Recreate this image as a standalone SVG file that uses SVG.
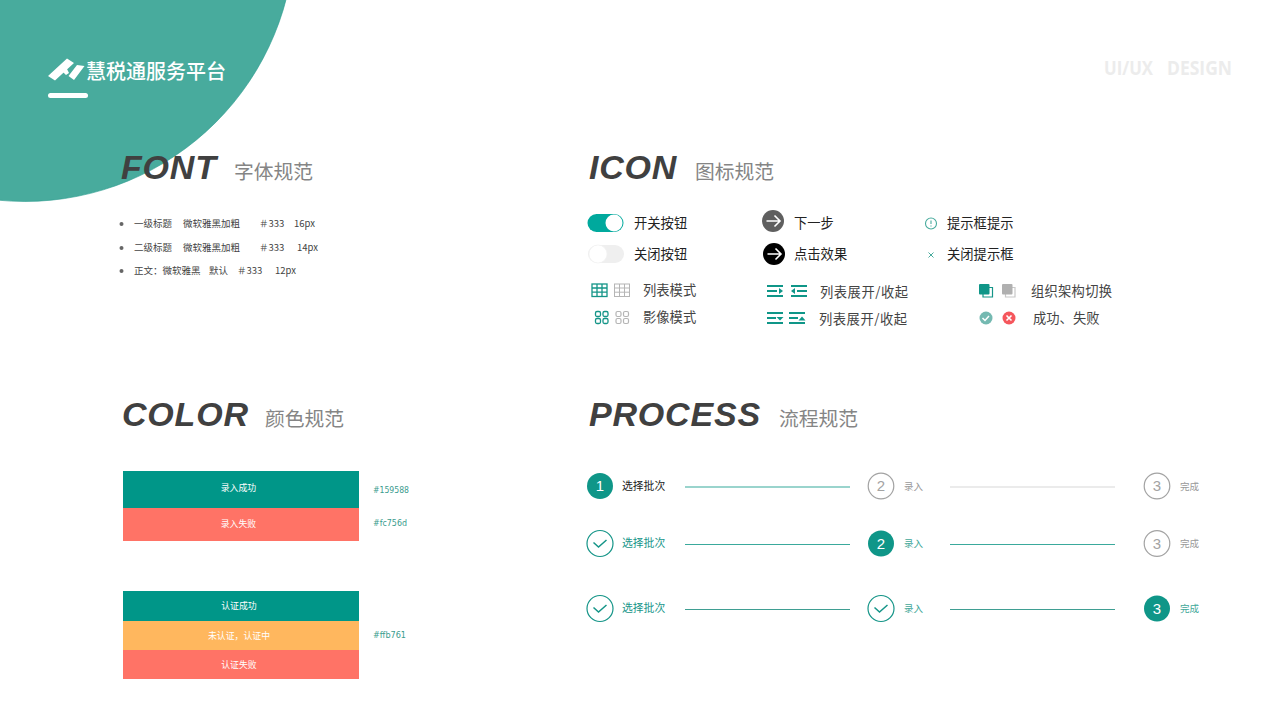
<svg xmlns="http://www.w3.org/2000/svg" width="1280" height="720" viewBox="0 0 1280 720">
<defs>
<style>
text{font-family:"Noto Sans CJK SC","Liberation Sans",sans-serif}
.h{font-family:"Liberation Sans",sans-serif;font-size:34px;font-weight:700;font-style:italic;fill:#404040;letter-spacing:.8px}
.s{font-size:19.800px;fill:#858585}
.f{font-size:9.500px;fill:#444}
.i{font-size:13.300px;fill:#222}
.i2{font-size:13.300px;fill:#444}
.w{font-size:8.900px;fill:#fff;text-anchor:middle}
.c{font-size:9.500px;fill:#3a9c8e;font-family:"DejaVu Sans",sans-serif}
.g{fill:#0f9688}
.o{fill:#fff;stroke:#a3a3a3;stroke-width:1.200}
.on{fill:#fff;stroke:#159588;stroke-width:1.200}
.n{font-family:"Liberation Sans",sans-serif;font-size:15px;text-anchor:middle}
.ck{fill:none;stroke:#159588;stroke-width:1.500}
.p{font-size:10.800px}
.tag{font-family:"Open Sans",sans-serif;font-size:19px;font-weight:700;fill:#ececec}
</style>
<g id="chk"><circle r="13" class="on"/><path d="M-6.500,-1 L-1.500,3.500 L6.500,-3.500" class="ck"/></g>
<g id="arrow"><path d="M-6.500,0H6.500M1.500,-5.500L7,0L1.500,5.500" fill="none" stroke="#fff" stroke-width="1.600"/></g>
</defs>
<rect width="1280" height="720" fill="#fff"/>
<g id="banner">
<circle cx="24.800" cy="-68.500" r="270" fill="#48ab9d" stroke="#2b9c8e" stroke-width=".6"/>
<path d="M48,76L67,58.500L74,63L55,80.500ZM63,72L67,69L69,73L66,75ZM68.500,76L77,65L84.500,66L74,80Z" fill="#fff"/>
<text x="86" y="79" font-size="20" fill="#fff" font-weight="500">慧税通服务平台</text>
<rect x="48" y="93" width="40" height="5" rx="2.500" fill="#fff"/>
</g>
<g id="tag"><text x="1104" y="75" class="tag" textLength="49" lengthAdjust="spacingAndGlyphs">UI/UX</text><text x="1167" y="75" class="tag" textLength="65" lengthAdjust="spacingAndGlyphs">DESIGN</text></g>
<g id="font">
<text x="121" y="179" class="h">FONT</text><text x="234" y="179" class="s">字体规范</text>
<circle cx="121.500" cy="224" r="2" fill="#666"/><circle cx="121.500" cy="248" r="2" fill="#666"/><circle cx="121.500" cy="271" r="2" fill="#666"/>
<text x="134" y="227" class="f">一级标题</text><text x="183" y="227" class="f">微软雅黑加粗</text><text x="259" y="227" class="f">＃333</text><text x="294" y="227" class="f">16px</text>
<text x="134" y="251" class="f">二级标题</text><text x="183" y="251" class="f">微软雅黑加粗</text><text x="259" y="251" class="f">＃333</text><text x="297" y="251" class="f">14px</text>
<text x="134" y="274" class="f">正文：微软雅黑</text><text x="209" y="274" class="f">默认</text><text x="237" y="274" class="f">＃333</text><text x="275" y="274" class="f">12px</text>
</g>
<g id="icon">
<text x="589" y="179" class="h">ICON</text><text x="695" y="179" class="s">图标规范</text>
<g id="switch-on"><rect x="587.500" y="214" width="36" height="18" rx="9" fill="#00a99d"/><circle cx="614" cy="223" r="8.500" fill="#fff"/><text x="634" y="228" class="i">开关按钮</text></g>
<g id="switch-off"><rect x="588" y="245" width="36" height="18" rx="9" fill="#efefef"/><circle cx="598" cy="254" r="9" fill="#fff" stroke="#f2f2f2" stroke-width=".8"/><text x="634" y="259" class="i">关闭按钮</text></g>
<g id="next"><circle cx="773" cy="221" r="11" fill="#5f5f5f"/><use href="#arrow" x="773" y="221"/><text x="794" y="228" class="i">下一步</text></g>
<g id="click"><circle cx="774" cy="254" r="11" fill="#000"/><use href="#arrow" x="774" y="254"/><text x="794" y="259" class="i">点击效果</text></g>
<g id="alert"><circle cx="931" cy="223.500" r="5.500" fill="none" stroke="#48ab9d" stroke-width="1.100"/><path d="M931,220.500v3.500M931,225.500v1" stroke="#48ab9d" stroke-width="1.100"/><text x="947" y="228" class="i">提示框提示</text></g>
<g id="close"><path d="M928.500,252.500l5,5M933.500,252.500l-5,5" stroke="#48ab9d" stroke-width="1"/><text x="947" y="259" class="i">关闭提示框</text></g>
<g id="list-mode">
<g fill="none" stroke="#159588" stroke-width="1.300"><rect x="592" y="284" width="15" height="12.500"/><path d="M592,288H607M592,292.200H607M597,284V296.500M602,284V296.500"/></g>
<g fill="none" stroke="#b5b5b5"><rect x="614.500" y="284" width="15" height="12.500"/><path d="M614.500,288H629.500M614.500,292.200H629.500M619.500,284V296.500M624.500,284V296.500"/></g>
<text x="643" y="295" class="i2">列表模式</text></g>
<g id="image-mode">
<g fill="none" stroke="#159588" stroke-width="1.300"><rect x="595.500" y="311.500" width="5" height="5" rx="1.500"/><rect x="603" y="311.500" width="5" height="5" rx="1.500"/><rect x="595.500" y="318.500" width="5" height="5" rx="1.500"/><rect x="603" y="318.500" width="5" height="5" rx="1.500"/></g>
<g fill="none" stroke="#b5b5b5" stroke-width="1.200"><rect x="616" y="311.500" width="5" height="5" rx="1.500"/><rect x="623.500" y="311.500" width="5" height="5" rx="1.500"/><rect x="616" y="318.500" width="5" height="5" rx="1.500"/><rect x="623.500" y="318.500" width="5" height="5" rx="1.500"/></g>
<text x="643" y="322" class="i2">影像模式</text></g>
<g id="list-toggle-1"><path d="M767,285h16v2h-16zM767,290h10v2h-10zM767,295h16v2h-16zM791,285h16v2h-16zM797,290h10v2h-10zM791,295h16v2h-16z" class="g"/><path d="M779,288l4,3l-4,3z" class="g"/><path d="M795,288l-4,3l4,3z" class="g"/><text x="820" y="297" class="i2" textLength="88">列表展开/收起</text></g>
<g id="list-toggle-2"><path d="M767,312h16v2h-16zM767,317h9v2h-9zM767,322h16v2h-16zM789,312h16v2h-16zM789,317h9v2h-9zM789,322h16v2h-16z" class="g"/><path d="M776.500,317h7l-3.500,3.500z" class="g"/><path d="M798.500,320.500h7l-3.500,-4z" class="g"/><text x="819" y="324" class="i2" textLength="88">列表展开/收起</text></g>
<g id="org-switch"><path d="M989,287.500h3.500v9.500h-9.500v-3" fill="none" stroke="#159588" stroke-width="1.200"/><rect x="979" y="284" width="10.500" height="10.500" rx="1" class="g"/><path d="M1012,287.500h3v9.500h-9.500v-3" fill="none" stroke="#c8c8c8" stroke-width="1.200"/><rect x="1002" y="284" width="10.500" height="10.500" rx="1" fill="#b0b0b0"/><text x="1031" y="296" class="i2" textLength="81">组织架构切换</text></g>
<g id="result"><circle cx="986" cy="318" r="6.500" fill="#74b9b1"/><path d="M982.500,318l2.500,2.500l4,-4.500" fill="none" stroke="#fff" stroke-width="1.500"/><circle cx="1009" cy="318" r="6.500" fill="#f5565c"/><path d="M1006.500,315.500l5,5M1011.500,315.500l-5,5" stroke="#fff" stroke-width="1.600"/><text x="1033" y="323" class="i2">成功、失败</text></g>
</g>
<g id="color">
<text x="122" y="426" class="h">COLOR</text><text x="265" y="426" class="s">颜色规范</text>
<rect x="123" y="471" width="236" height="37" fill="#009688"/><rect x="123" y="508" width="236" height="33" fill="#ff7366"/>
<text x="238.500" y="491" class="w">录入成功</text><text x="238.500" y="527" class="w">录入失败</text>
<text x="373" y="493" class="c" textLength="36" lengthAdjust="spacingAndGlyphs">#159588</text><text x="373" y="526" class="c" textLength="34" lengthAdjust="spacingAndGlyphs">#fc756d</text>
<rect x="123" y="591" width="236" height="30" fill="#009688"/><rect x="123" y="621" width="236" height="29" fill="#ffb75e"/><rect x="123" y="650" width="236" height="29" fill="#ff7366"/>
<text x="239" y="609" class="w">认证成功</text><text x="239" y="639" class="w">未认证，认证中</text><text x="239" y="668" class="w">认证失败</text>
<text x="373" y="638" class="c" textLength="33" lengthAdjust="spacingAndGlyphs">#ffb761</text>
</g>
<g id="process">
<text x="589" y="426" class="h">PROCESS</text><text x="779" y="426" class="s">流程规范</text>
<g id="connectors">
<path d="M685,487H850" stroke="#78c6bc" stroke-width="1.600"/><path d="M950,487H1115" stroke="#e5e5e5" stroke-width="1.600"/>
<path d="M685,544.500H850" stroke="#3aa99c" stroke-width="1.200"/><path d="M950,544.500H1115" stroke="#3aa99c" stroke-width="1.200"/>
<path d="M685,609.500H850" stroke="#3f9e92" stroke-width="1.200"/><path d="M950,609.500H1115" stroke="#3f9e92" stroke-width="1.200"/>
</g>
<g id="step-1-1"><circle cx="600" cy="486" r="13" class="g"/><text x="600" y="491" class="n" fill="#fff">1</text><text x="622" y="490" class="p" fill="#222">选择批次</text></g>
<g id="step-1-2"><circle cx="881" cy="486" r="12.800" class="o"/><text x="881" y="491" class="n" fill="#a3a3a3">2</text><text x="904" y="490" class="f" style="fill:#999">录入</text></g>
<g id="step-1-3"><circle cx="1157" cy="486" r="12.800" class="o"/><text x="1157" y="491" class="n" fill="#a3a3a3">3</text><text x="1180" y="490" class="f" style="fill:#999">完成</text></g>
<g id="step-2-1"><use href="#chk" x="600" y="543.500"/><text x="622" y="547" class="p" fill="#159588">选择批次</text></g>
<g id="step-2-2"><circle cx="881" cy="543.500" r="13" class="g"/><text x="881" y="549" class="n" fill="#fff">2</text><text x="904" y="547" class="f" style="fill:#3fa899">录入</text></g>
<g id="step-2-3"><circle cx="1157" cy="543.500" r="12.800" class="o"/><text x="1157" y="549" class="n" fill="#a3a3a3">3</text><text x="1180" y="547" class="f" style="fill:#999">完成</text></g>
<g id="step-3-1"><use href="#chk" x="600" y="608.500"/><text x="622" y="612" class="p" fill="#159588">选择批次</text></g>
<g id="step-3-2"><use href="#chk" x="881" y="608.500"/><text x="904" y="612" class="f" style="fill:#3fa899">录入</text></g>
<g id="step-3-3"><circle cx="1157" cy="608.500" r="13" class="g"/><text x="1157" y="614" class="n" fill="#fff">3</text><text x="1180" y="612" class="f" style="fill:#3fa899">完成</text></g>
</g>
</svg>
